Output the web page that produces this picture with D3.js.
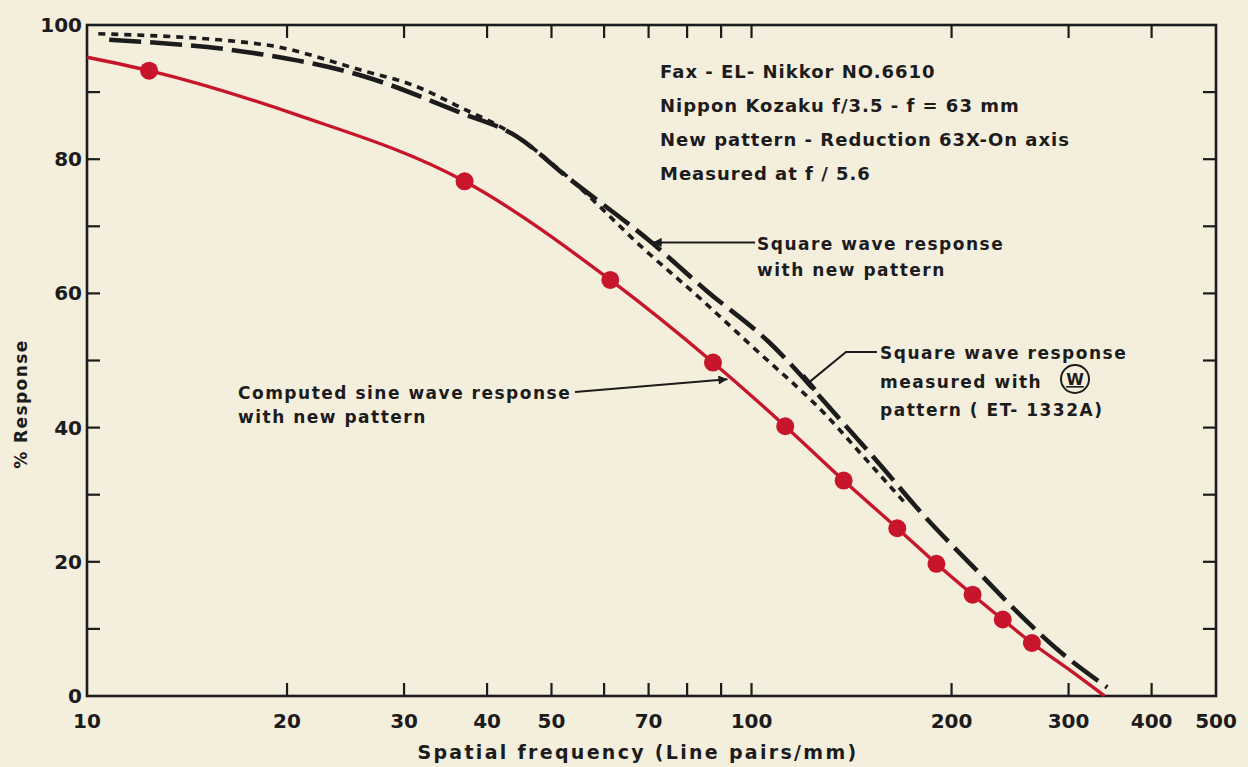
<!DOCTYPE html>
<html>
<head>
<meta charset="utf-8">
<script src="https://cdn.jsdelivr.net/npm/d3@7"></script>
<style>
body{margin:0;background:#f4eedc;}
svg{display:block;}
text{font-family:"DejaVu Sans",sans-serif;fill:#1c1c1c;font-weight:bold;}
</style>
</head>
<body>
<div id="chart"></div>
<script>
// computed sine wave response - the red dots
var sineFreq = [12.4, 37, 61.3, 87.5, 112.4, 137.6, 165.7, 189.8, 215.1, 238.8, 264.2];
var sineResp = [93.2, 76.7, 62.0, 49.7, 40.2, 32.1, 25.0, 19.7, 15.1, 11.4, 7.9];
// red curve (ends included)
var sineLineFreq = [10, 12.4, 20.7, 37, 61.3, 87.5, 112.4, 137.6, 165.7, 189.8, 215.1, 238.8, 264.2, 300, 340];
var sineLineResp = [95.2, 93.2, 86.6, 76.7, 62.0, 49.7, 40.2, 32.1, 25.0, 19.7, 15.1, 11.4, 7.9, 4.0, 0];
// square wave, new pattern (long dashes)
var newFreq = [10.8, 18.4, 26, 36.3, 44.3, 52.7, 70.3, 85.8, 105.8, 136.5, 159.2, 176.8, 220.3, 250.6, 288.1, 343];
var newResp = [97.8, 95.6, 92.4, 87.0, 83.4, 77.4, 67.8, 60.3, 52.9, 41.0, 33.5, 28.2, 18.3, 12.6, 7.0, 1.3];
// square wave, W pattern ET-1332A (short dashes)
var wFreq = [10.4, 18.4, 26, 31, 36, 44.3, 52.7, 68.9, 83.8, 99.7, 130.5, 146.4, 170.8];
var wResp = [98.7, 97.1, 93.2, 91.0, 88.0, 83.4, 77.5, 66.6, 59.2, 52.3, 41.5, 36.0, 28.6];
// ticks
var xTickMajor = [20, 30, 40, 50, 60, 70, 80, 90, 100, 200, 300, 400];
var xTickLabels = [10, 20, 30, 40, 50, 70, 100, 200, 300, 400, 500];
var yTickLabels = [0, 20, 40, 60, 80, 100];
var yTicks = [10, 20, 30, 40, 50, 60, 70, 80, 90];
var noteLines = ["Fax - EL- Nikkor  NO.6610", "Nippon Kozaku  f/3.5 - f = 63 mm", "New pattern - Reduction  63X-On axis", "Measured  at  f / 5.6"];

var W = 1248, H = 767;
var red = "#c7162b", ink = "#1c1c1c";
var svg = d3.select("#chart").append("svg").attr("width", W).attr("height", H);

var x = d3.scaleLog().domain([10, 500]).range([87, 1216]);
var y = d3.scaleLinear().domain([0, 100]).range([696, 25]);
var x0 = x(10), x1 = x(500), y0 = y(0), y1 = y(100);

//frame
svg.append("rect").attr("x", x0).attr("y", y1).attr("width", x1 - x0).attr("height", y0 - y1)
	.attr("fill", "none").attr("stroke", ink).attr("stroke-width", 2.6);

var tl = 13;
var g = svg.append("g").attr("stroke", ink).attr("stroke-width", 2.2);
g.selectAll(".xb").data(xTickMajor).enter().append("line")
	.attr("x1", function(d){ return x(d); }).attr("x2", function(d){ return x(d); })
	.attr("y1", y0).attr("y2", y0 - tl);
g.selectAll(".xt").data(xTickMajor).enter().append("line")
	.attr("x1", function(d){ return x(d); }).attr("x2", function(d){ return x(d); })
	.attr("y1", y1).attr("y2", y1 + tl);
g.selectAll(".yl").data(yTicks).enter().append("line")
	.attr("x1", x0).attr("x2", x0 + tl)
	.attr("y1", function(d){ return y(d); }).attr("y2", function(d){ return y(d); });
g.selectAll(".yr").data(yTicks).enter().append("line")
	.attr("x1", x1).attr("x2", x1 - tl)
	.attr("y1", function(d){ return y(d); }).attr("y2", function(d){ return y(d); });

svg.append("g").selectAll("text").data(xTickLabels).enter().append("text")
	.attr("x", function(d){ return x(d); }).attr("y", y0 + 32)
	.attr("text-anchor", "middle").attr("font-size", 20).text(function(d){ return d; });
svg.append("g").selectAll("text").data(yTickLabels).enter().append("text")
	.attr("x", x0 - 5).attr("y", function(d){ return y(d) + 7; })
	.attr("text-anchor", "end").attr("font-size", 20).text(function(d){ return d; });

svg.append("text").attr("x", 638).attr("y", 759).attr("text-anchor", "middle")
	.attr("font-size", 19).attr("letter-spacing", 2.3)
	.text("Spatial frequency (Line pairs/mm)");
svg.append("text").attr("transform", "translate(27,404) rotate(-90)").attr("text-anchor", "middle")
	.attr("font-size", 17).attr("letter-spacing", 1.4)
	.text("% Response");

//curves
var line = d3.line().x(function(d){ return x(d[0]); }).y(function(d){ return y(d[1]); }).curve(d3.curveMonotoneX);
svg.append("path").datum(d3.zip(wFreq, wResp)).attr("d", line)
	.attr("fill", "none").attr("stroke", ink).attr("stroke-width", 3.6).attr("stroke-dasharray", "7,6");
svg.append("path").datum(d3.zip(newFreq, newResp)).attr("d", line)
	.attr("fill", "none").attr("stroke", ink).attr("stroke-width", 4.6).attr("stroke-dasharray", "32,9");
svg.append("path").datum(d3.zip(sineLineFreq, sineLineResp)).attr("d", line)
	.attr("fill", "none").attr("stroke", red).attr("stroke-width", 3.4);
svg.append("g").selectAll("circle").data(d3.zip(sineFreq, sineResp)).enter().append("circle")
	.attr("cx", function(d){ return x(d[0]); }).attr("cy", function(d){ return y(d[1]); })
	.attr("r", 9).attr("fill", red);

//notes
svg.append("g").selectAll("text").data(noteLines).enter().append("text")
	.attr("x", 660).attr("y", function(d, i){ return 78 + i * 34; })
	.attr("font-size", 18).attr("letter-spacing", 1).text(function(d){ return d; });

svg.append("defs").append("marker").attr("id", "arr").attr("viewBox", "0 0 10 10")
	.attr("refX", 10).attr("refY", 5).attr("markerWidth", 16).attr("markerHeight", 9)
	.attr("markerUnits", "userSpaceOnUse").attr("orient", "auto")
	.append("path").attr("d", "M0,0L10,5L0,10Z").attr("fill", ink);

function label(lines, lx, ly, dy){
	svg.append("g").selectAll("text").data(lines).enter().append("text")
		.attr("x", lx).attr("y", function(d, i){ return ly + 7 + i * dy; })
		.attr("font-size", 17).attr("letter-spacing", 1.5).text(function(d){ return d; });
}
// square wave new pattern
label(["Square wave response", "with new pattern"], 757, 243, 26);
svg.append("line").attr("x1", 755).attr("y1", y(67.6)).attr("x2", x(71)).attr("y2", y(67.6))
	.attr("stroke", ink).attr("stroke-width", 2).attr("marker-end", "url(#arr)");
// W pattern
label(["Square wave response", "measured with", "pattern ( ET- 1332A)"], 880, 352, 28.5);
svg.append("circle").attr("cx", 1075).attr("cy", 379).attr("r", 14).attr("fill", "none").attr("stroke", ink).attr("stroke-width", 2);
svg.append("text").attr("x", 1075).attr("y", 385).attr("text-anchor", "middle").attr("font-size", 16)
	.attr("text-decoration", "underline").text("W");
var ex = x(121.9), ey = y(46.7);
svg.append("path").attr("d", "M877,352L846,352L" + ex + "," + ey)
	.attr("fill", "none").attr("stroke", ink).attr("stroke-width", 2);
svg.append("line").attr("x1", ex - 6).attr("y1", ey - 7).attr("x2", ex + 6).attr("y2", ey + 7)
	.attr("stroke", ink).attr("stroke-width", 5);
// computed sine wave
label(["Computed sine wave response", "with new pattern"], 238, 392, 24);
svg.append("line").attr("x1", 575).attr("y1", 392).attr("x2", x(92)).attr("y2", y(47.2))
	.attr("stroke", ink).attr("stroke-width", 2).attr("marker-end", "url(#arr)");
</script>
</body>
</html>
